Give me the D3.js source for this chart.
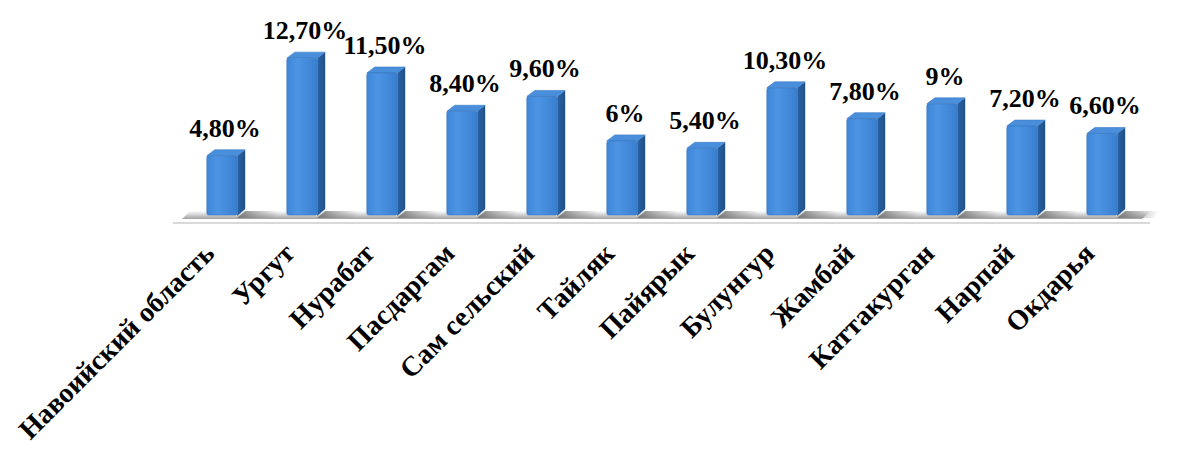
<!DOCTYPE html>
<html>
<head>
<meta charset="utf-8">
<script src="https://cdn.jsdelivr.net/npm/d3@7"></script>
<style>
  body { margin: 0; background: #fff; }
  svg { display: block; }
  text { font-family: "Liberation Serif", "Times New Roman", serif; font-weight: bold; fill: #000; }
</style>
</head>
<body>
<div id="chart"></div>
<script>
// data
const districts = ["Навоийский область", "Ургут", "Нурабат", "Пасдаргам", "Сам сельский", "Тайляк",
                   "Пайярык", "Булунгур", "Жамбай", "Каттакурган", "Нарпай", "Окдарья"];
const shares = [4.8, 12.7, 11.5, 8.4, 9.6, 6.0, 5.4, 10.3, 7.8, 9.0, 7.2, 6.6];
const shareLabels = ["4,80%", "12,70%", "11,50%", "8,40%", "9,60%", "6%", "5,40%", "10,30%", "7,80%", "9%", "7,20%", "6,60%"];

const width = 1182, height = 451;
const base = 215;          // bottom of the bars
const depth = 8;           // 3d side depth
const rows = districts.map((d, i) => ({name: d, v: shares[i], label: shareLabels[i]}));

const svg = d3.select("#chart").append("svg")
    .attr("width", width).attr("height", height);

const x = d3.scaleBand()
    .domain(districts)
    .range([182, 1142])
    .paddingInner(0.62)
    .paddingOuter(0.31);

const y = d3.scaleLinear()
    .domain([0, 13])
    .range([base, base - 13 * 12.35]);

const defs = svg.append("defs");
const gFront = defs.append("linearGradient").attr("id", "front").attr("x1", 0).attr("x2", 1).attr("y1", 0).attr("y2", 0);
gFront.append("stop").attr("offset", "0%").attr("stop-color", "#3f86d6");
gFront.append("stop").attr("offset", "35%").attr("stop-color", "#4d95e4");
gFront.append("stop").attr("offset", "100%").attr("stop-color", "#3a7fcf");
const gSide = defs.append("linearGradient").attr("id", "side").attr("x1", 0).attr("x2", 1);
gSide.append("stop").attr("offset", "0%").attr("stop-color", "#2b64a6");
gSide.append("stop").attr("offset", "100%").attr("stop-color", "#1f4f88");
const gFloor = defs.append("linearGradient").attr("id", "floor").attr("x1", 0).attr("x2", 0).attr("y1", 0).attr("y2", 1);
gFloor.append("stop").attr("offset", "0%").attr("stop-color", "#ffffff");
gFloor.append("stop").attr("offset", "100%").attr("stop-color", "#a0a0a0");
const gShadow = defs.append("linearGradient").attr("id", "shadow").attr("x1", 0).attr("x2", 1);
gShadow.append("stop").attr("offset", "0%").attr("stop-color", "#6e6e6e").attr("stop-opacity", 0.9);
gShadow.append("stop").attr("offset", "100%").attr("stop-color", "#888").attr("stop-opacity", 0);

// floor
svg.append("path")
    .attr("d", `M${182},${base + 4} L${1142},${base + 4} L${1150},${base - 4} L${190},${base - 4} Z`)
    .attr("fill", "url(#floor)");
svg.append("line")
    .attr("x1", 173).attr("x2", 1150)
    .attr("y1", base + 8).attr("y2", base + 8)
    .attr("stroke", "#d9d9d9").attr("stroke-width", 2);

const bars = svg.selectAll("g.bar")
    .data(rows)
    .join("g")
    .attr("class", "bar");

// shadow next to each bar
bars.append("path")
    .attr("d", d => {
      const x0 = x(d.name) + x.bandwidth();
      return `M${x0},${base + 3} L${x0 + 36},${base + 3} L${x0 + 42},${base - 4} L${x0 + depth},${base - 4} Z`;
    })
    .attr("fill", "url(#shadow)");

// side face
bars.append("path")
    .attr("d", d => {
      const x0 = x(d.name) + x.bandwidth(), yt = y(d.v);
      return `M${x0},${yt} L${x0 + depth},${yt - 6} L${x0 + depth},${base - 6} L${x0},${base + 1} Z`;
    })
    .attr("fill", "url(#side)");

// top face
bars.append("path")
    .attr("d", d => {
      const x0 = x(d.name), yt = y(d.v);
      return `M${x0},${yt} L${x0 + depth},${yt - 6} L${x0 + x.bandwidth() + depth},${yt - 6} L${x0 + x.bandwidth()},${yt} Z`;
    })
    .attr("fill", "#4a8fdc")
    .attr("stroke", "#3a7ac4").attr("stroke-width", 0.6)
    .attr("stroke-linejoin", "round");

// front face
bars.append("rect")
    .attr("x", d => x(d.name))
    .attr("y", d => y(d.v))
    .attr("width", x.bandwidth())
    .attr("height", d => base - y(d.v))
    .attr("rx", 2)
    .attr("fill", "url(#front)")
    .attr("stroke", "#3676c0").attr("stroke-width", 0.6);

// value labels
bars.append("text")
    .attr("x", d => x(d.name) + x.bandwidth() / 2 + 3)
    .attr("y", d => y(d.v) - 19)
    .attr("text-anchor", "middle")
    .style("font-size", "26px")
    .text(d => d.label);

// category labels, rotated
svg.selectAll("text.cat")
    .data(rows)
    .join("text")
    .attr("class", "cat")
    .attr("text-anchor", "end")
    .attr("transform", d => `translate(${x(d.name) + x.bandwidth() / 2 - 6},${base + 40}) rotate(-45)`)
    .style("font-size", "28px")
    .text(d => d.name);
</script>
</body>
</html>
